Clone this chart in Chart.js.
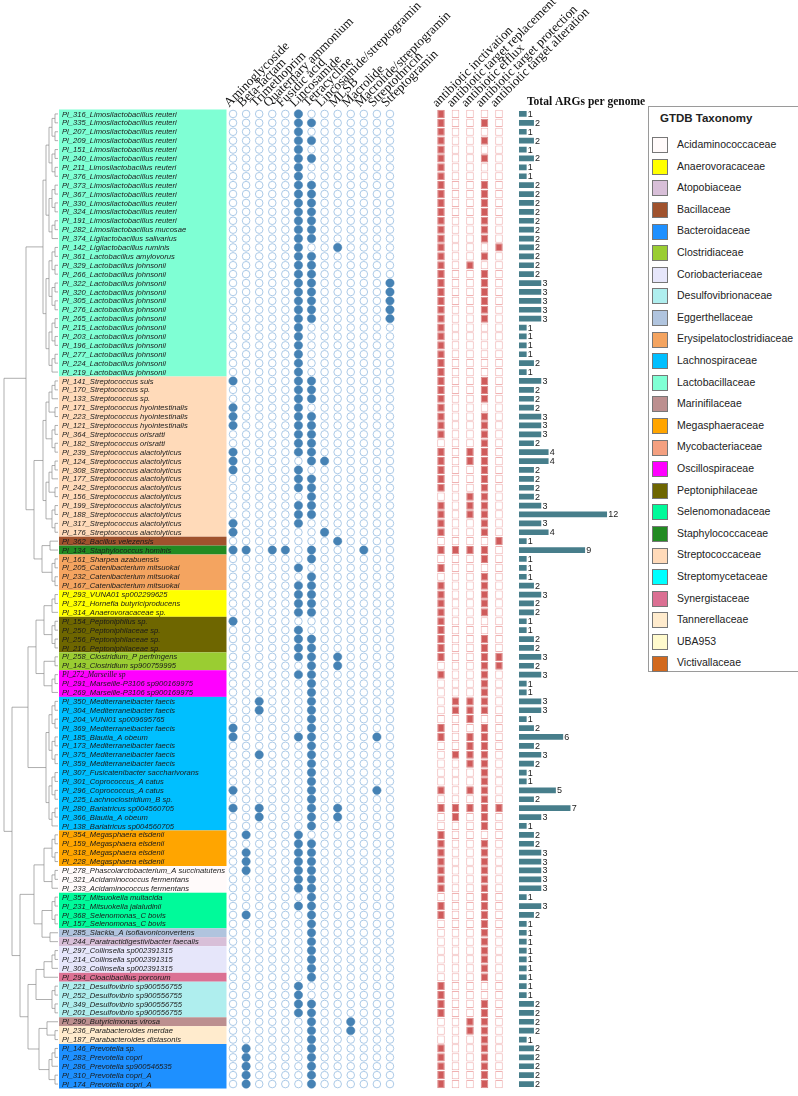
<!DOCTYPE html>
<html>
<head>
<meta charset="utf-8">
<script src="https://cdn.jsdelivr.net/npm/chart.js@4.4.1/dist/chart.umd.min.js"></script>
<style>
body { margin: 0; background: #fff; }
#wrap { position: relative; width: 798px; height: 1096px; overflow: hidden; }
#wrap canvas { position: absolute; left: 0; top: 0; }
#legend { position: absolute; left: 648px; top: 106px; width: 160px; height: 566px; border: 1px solid #9a9a9a;
  box-sizing: border-box; font-family: "Liberation Sans", Arial, sans-serif; background: #fff; }
#legend .title { position: absolute; left: 11px; top: 5px; font-weight: bold; font-size: 11.5px; color: #222; }
#legend .item { position: absolute; left: 3px; height: 17px; font-size: 10.5px; color: #222; line-height: 17px; }
#legend .sw { display: inline-block; width: 16px; height: 16px; border: 1px solid #777; box-sizing: border-box;
  vertical-align: middle; margin-right: 9px; }
</style>
</head>
<body>
<div id="wrap">
  <canvas id="dots" width="798" height="1096"></canvas>
  <canvas id="mechs" width="798" height="1096"></canvas>
  <canvas id="totals" width="798" height="1096"></canvas>
  <div id="legend"><div class="title">GTDB Taxonomy</div></div>
</div>
<script>
// drug classes (dot matrix columns)
const drugClasses = ['Aminoglycoside', 'Beta-lactam', 'Trimethoprim', 'Quaternary ammonium', 'Fusidic acid',
  'Lincosamide', 'Tetracycline', 'Lincosamide/streptogramin', 'MLSB', 'Macrolide', 'Macrolide/streptogramin',
  'Streptothricin', 'Streptogramin'];

// resistance mechanisms (square matrix columns)
const mechanisms = ['antibiotic inctivation', 'antibiotic target replacement', 'antibiotic efflux',
  'antibiotic target protection', 'antibiotic target alteration'];

const genomes = [
  'Pl_316_Limosilactobacillus reuteri', 'Pl_335_Limosilactobacillus reuteri', 'Pl_207_Limosilactobacillus reuteri',
  'Pl_209_Limosilactobacillus reuteri', 'Pl_151_Limosilactobacillus reuteri', 'Pl_240_Limosilactobacillus reuteri',
  'Pl_211_Limosilactobacillus reuteri', 'Pl_376_Limosilactobacillus reuteri', 'Pl_373_Limosilactobacillus reuteri',
  'Pl_367_Limosilactobacillus reuteri', 'Pl_330_Limosilactobacillus reuteri', 'Pl_324_Limosilactobacillus reuteri',
  'Pl_191_Limosilactobacillus reuteri', 'Pl_282_Limosilactobacillus mucosae', 'Pl_374_Ligilactobacillus salivarius',
  'Pl_142_Ligilactobacillus ruminis', 'Pl_361_Lactobacillus amylovorus', 'Pl_329_Lactobacillus johnsonii',
  'Pl_266_Lactobacillus johnsonii', 'Pl_322_Lactobacillus johnsonii', 'Pl_320_Lactobacillus johnsonii',
  'Pl_305_Lactobacillus johnsonii', 'Pl_276_Lactobacillus johnsonii', 'Pl_265_Lactobacillus johnsonii',
  'Pl_215_Lactobacillus johnsonii', 'Pl_203_Lactobacillus johnsonii', 'Pl_196_Lactobacillus johnsonii',
  'Pl_277_Lactobacillus johnsonii', 'Pl_224_Lactobacillus johnsonii', 'Pl_219_Lactobacillus johnsonii',
  'Pl_141_Streptococcus suis', 'Pl_170_Streptococcus sp.', 'Pl_133_Streptococcus sp.',
  'Pl_171_Streptococcus hyointestinalis', 'Pl_223_Streptococcus hyointestinalis', 'Pl_121_Streptococcus hyointestinalis',
  'Pl_364_Streptococcus orisratti', 'Pl_182_Streptococcus orisratti', 'Pl_239_Streptococcus alactolyticus',
  'Pl_124_Streptococcus alactolyticus', 'Pl_308_Streptococcus alactolyticus', 'Pl_177_Streptococcus alactolyticus',
  'Pl_242_Streptococcus alactolyticus', 'Pl_156_Streptococcus alactolyticus', 'Pl_199_Streptococcus alactolyticus',
  'Pl_188_Streptococcus alactolyticus', 'Pl_317_Streptococcus alactolyticus', 'Pl_176_Streptococcus alactolyticus',
  'Pl_362_Bacillus velezensis', 'Pl_134_Staphylococcus hominis', 'Pl_161_Sharpea azabuensis',
  'Pl_205_Catenibacterium mitsuokai', 'Pl_232_Catenibacterium mitsuokai', 'Pl_167_Catenibacterium mitsuokai',
  'Pl_293_VUNA01 sp002299625', 'Pl_371_Hornefia butyriciproducens', 'Pl_314_Anaerovoracaceae sp.',
  'Pl_154_Peptoniphilus sp.', 'Pl_250_Peptoniphilaceae sp.', 'Pl_256_Peptoniphilaceae sp.',
  'Pl_216_Peptoniphilaceae sp.', 'Pl_258_Clostridium_P perfringens', 'Pl_143_Clostridium sp900759995',
  'Pl_272_Marseille sp', 'Pl_291_Marseille-P3106 sp900169975', 'Pl_269_Marseille-P3106 sp900169975',
  'Pl_350_Mediterraneibacter faecis', 'Pl_304_Mediterraneibacter faecis', 'Pl_204_VUNI01 sp009695765',
  'Pl_369_Mediterraneibacter faecis', 'Pl_185_Blautia_A obeum', 'Pl_173_Mediterraneibacter faecis',
  'Pl_375_Mediterraneibacter faecis', 'Pl_359_Mediterraneibacter faecis', 'Pl_307_Fusicatenibacter saccharivorans',
  'Pl_301_Coprococcus_A catus', 'Pl_296_Coprococcus_A catus', 'Pl_225_Lachnoclostridium_B sp.',
  'Pl_280_Bariatricus sp004560705', 'Pl_366_Blautia_A obeum', 'Pl_138_Bariatricus sp004560705',
  'Pl_354_Megasphaera elsdenii', 'Pl_159_Megasphaera elsdenii', 'Pl_318_Megasphaera elsdenii',
  'Pl_228_Megasphaera elsdenii', 'Pl_278_Phascolarctobacterium_A succinatutens', 'Pl_321_Acidaminococcus fermentans',
  'Pl_233_Acidaminococcus fermentans', 'Pl_357_Mitsuokella multacida', 'Pl_231_Mitsuokella jalaludinii',
  'Pl_368_Selenomonas_C bovis', 'Pl_157_Selenomonas_C bovis', 'Pl_285_Slackia_A isoflavoniconvertens',
  'Pl_244_Paratractidigestivibacter faecalis', 'Pl_297_Collinsella sp002391315', 'Pl_214_Collinsella sp002391315',
  'Pl_303_Collinsella sp002391315', 'Pl_294_Cloacibacillus porcorum', 'Pl_221_Desulfovibrio sp900556755',
  'Pl_252_Desulfovibrio sp900556755', 'Pl_349_Desulfovibrio sp900556755', 'Pl_201_Desulfovibrio sp900556755',
  'Pl_290_Butyricimonas virosa', 'Pl_236_Parabacteroides merdae', 'Pl_187_Parabacteroides distasonis',
  'Pl_146_Prevotella sp.', 'Pl_283_Prevotella copri', 'Pl_286_Prevotella sp900546535',
  'Pl_310_Prevotella copri_A', 'Pl_174_Prevotella copri_A'
];

// consecutive rows per family, top to bottom
const familyRuns = [
  ['Lactobacillaceae', 30], ['Streptococcaceae', 18], ['Bacillaceae', 1], ['Staphylococcaceae', 1],
  ['Erysipelatoclostridiaceae', 4], ['Anaerovoracaceae', 3], ['Peptoniphilaceae', 4], ['Clostridiaceae', 2],
  ['Oscillospiraceae', 3], ['Lachnospiraceae', 15], ['Megasphaeraceae', 4], ['Acidaminococcaceae', 3],
  ['Selenomonadaceae', 4], ['Eggerthellaceae', 1], ['Atopobiaceae', 1], ['Coriobacteriaceae', 3],
  ['Synergistaceae', 1], ['Desulfovibrionaceae', 4], ['Marinifilaceae', 1], ['Tannerellaceae', 2],
  ['Bacteroidaceae', 5]
];

// drug class hits per genome (indices into drugClasses)
const drugHits = [
  [5], [5, 6], [5], [5, 6], [5], [5, 6], [5], [5], [5, 6], [5, 6],
  [5, 6], [5, 6], [5, 6], [5, 6], [5, 6], [5, 8], [5, 6], [5, 6], [5, 6], [5, 6, 12],
  [5, 6, 12], [5, 6, 12], [5, 6, 12], [5, 6, 12], [5], [5], [5], [5], [5], [5],
  [0, 5, 6], [5, 6], [5, 6], [0, 5], [0, 5, 6], [0, 5, 6], [5, 6], [5, 6], [0, 5, 6], [0, 6, 7],
  [0, 5], [5, 6], [5, 6], [6], [5, 6], [5, 6], [0, 5], [0, 7], [8], [0, 1, 3, 4, 6, 10],
  [6], [5], [6], [5, 6], [5, 6], [5, 6], [5, 6], [0], [5], [5, 6],
  [5, 6], [5, 6, 8], [6, 8], [5, 6], [6], [6], [2, 6], [2, 6], [6], [0, 6],
  [0, 5, 6, 11], [6], [2, 6], [6], [6], [6], [0, 6, 11], [6], [0, 2, 6, 8], [2, 6, 8],
  [6], [1, 5], [5, 6], [1, 5, 6], [1, 5, 6], [1, 5, 6], [5, 6], [5, 6], [6], [5, 6],
  [1, 6], [6], [6], [6], [6], [6], [6], [6], [5], [5],
  [5, 6], [5, 6], [6, 9], [6, 9], [6], [1, 6], [1, 6], [1, 6], [1, 6], [1, 6]
];

// mechanism hits per genome (indices into mechanisms)
const mechHits = [
  [0], [0, 3], [0], [0, 3], [0], [0, 3], [0], [0], [0, 3], [0, 3],
  [0, 3], [0, 3], [0, 3], [0, 3], [0, 3], [0, 4], [0, 3], [0, 2], [0, 3], [0, 3],
  [0, 3], [0, 3], [0, 3], [0, 3], [0], [0], [0], [0], [0], [0],
  [0, 3], [0, 3], [0, 3], [0], [0, 3], [0, 3], [0, 3], [3], [0, 2, 3], [0, 2, 3],
  [0, 3], [0, 3], [0, 3], [2, 3], [0, 2, 3], [0, 2, 3], [0, 3], [0, 3], [4], [0, 1, 2, 3],
  [3], [0], [3], [0, 3], [0, 3], [0, 3], [0, 3], [0], [0], [0, 3],
  [0, 3], [0, 3, 4], [3, 4], [0, 3], [3], [3], [1, 2, 3], [1, 2, 3], [2], [0, 3],
  [0, 2, 3], [2, 3], [1, 2, 3], [2, 3], [3], [3], [0, 2, 3], [3], [0, 1, 2, 3, 4], [1, 3],
  [3], [0], [0, 3], [0, 3], [0, 3], [0, 3], [0, 3], [0, 3], [3], [0, 3],
  [0, 3], [3], [3], [3], [3], [3], [3], [3], [0], [0],
  [0, 3], [0, 3], [2, 3], [2, 3], [3], [0, 3], [0, 3], [0, 3], [0, 3], [0, 3]
];

const totalARGs = [
  1, 2, 1, 2, 1, 2, 1, 1, 2, 2,
  2, 2, 2, 2, 2, 2, 2, 2, 2, 3,
  3, 3, 3, 3, 1, 1, 1, 1, 2, 1,
  3, 2, 2, 2, 3, 3, 3, 2, 4, 4,
  2, 2, 2, 2, 3, 12, 3, 4, 1, 9,
  1, 1, 1, 2, 3, 2, 2, 1, 1, 2,
  2, 3, 2, 3, 1, 1, 3, 3, 1, 2,
  6, 2, 3, 2, 1, 1, 5, 2, 7, 3,
  1, 2, 2, 3, 3, 3, 3, 3, 1, 3,
  2, 1, 1, 1, 1, 1, 1, 1, 1, 1,
  2, 2, 2, 2, 1, 2, 2, 2, 2, 2
];

const legendFamilies = ['Acidaminococcaceae', 'Anaerovoracaceae', 'Atopobiaceae', 'Bacillaceae', 'Bacteroidaceae',
  'Clostridiaceae', 'Coriobacteriaceae', 'Desulfovibrionaceae', 'Eggerthellaceae', 'Erysipelatoclostridiaceae',
  'Lachnospiraceae', 'Lactobacillaceae', 'Marinifilaceae', 'Megasphaeraceae', 'Mycobacteriaceae',
  'Oscillospiraceae', 'Peptoniphilaceae', 'Selenomonadaceae', 'Staphylococcaceae', 'Streptococcaceae',
  'Streptomycetaceae', 'Synergistaceae', 'Tannerellaceae', 'UBA953', 'Victivallaceae'];

const familyColors = {
  Acidaminococcaceae: '#FFFAFA', Anaerovoracaceae: '#FFFF00', Atopobiaceae: '#D8BFD8', Bacillaceae: '#A0522D',
  Bacteroidaceae: '#1E90FF', Clostridiaceae: '#9ACD32', Coriobacteriaceae: '#E6E6FA', Desulfovibrionaceae: '#AFEEEE',
  Eggerthellaceae: '#B0C4DE', Erysipelatoclostridiaceae: '#F4A460', Lachnospiraceae: '#00BFFF',
  Lactobacillaceae: '#7FFFD4', Marinifilaceae: '#BC8F8F', Megasphaeraceae: '#FFA500', Mycobacteriaceae: '#F4A080',
  Oscillospiraceae: '#FF00FF', Peptoniphilaceae: '#6E6600', Selenomonadaceae: '#00FA9A',
  Staphylococcaceae: '#228B22', Streptococcaceae: '#FFDAB9', Streptomycetaceae: '#00FFFF',
  Synergistaceae: '#DB7093', Tannerellaceae: '#FFEBCD', UBA953: '#FFFACD', Victivallaceae: '#D2691E'
};

const TOP = 109.5, BOTTOM_PAD = 7.5;
const LABEL_X0 = 59, LABEL_X1 = 226.5;

// legend (html)
const legendEl = document.getElementById('legend');
legendFamilies.forEach((fam, i) => {
  const it = document.createElement('div');
  it.className = 'item';
  it.style.top = (29 + i * 21.6) + 'px';
  it.innerHTML = `<span class="sw" style="background:${familyColors[fam]}"></span>${fam}`;
  legendEl.appendChild(it);
});

function rowStep(y) {
  return y.getPixelForValue(1) - y.getPixelForValue(0);
}

// rough dendrogram built from the family blocks
const familyStarts = [];
(function () { let s = 0; familyRuns.forEach(([, n]) => { familyStarts.push(s); s += n; }); })();

function drawTree(ctx, y, lo, hi) {
  if (lo === hi) return { x: LABEL_X0 - 1, py: y.getPixelForValue(lo) };
  const inner = familyStarts.filter(b => b > lo && b <= hi);
  let mid = Math.floor((lo + hi) / 2);
  if (inner.length) {
    const c = (lo + hi + 1) / 2;
    mid = inner.reduce((a, b) => Math.abs(b - c) < Math.abs(a - c) ? b : a) - 1;
  }
  const a = drawTree(ctx, y, lo, mid);
  const b = drawTree(ctx, y, mid + 1, hi);
  const x = Math.max(1.5, Math.min(a.x, b.x) - (inner.length ? 8 : 3));
  ctx.beginPath();
  ctx.moveTo(x, a.py); ctx.lineTo(a.x, a.py);
  ctx.moveTo(x, b.py); ctx.lineTo(b.x, b.py);
  ctx.moveTo(x, a.py); ctx.lineTo(x, b.py);
  ctx.stroke();
  return { x, py: (a.py + b.py) / 2 };
}

function drawHeaders(ctx, xs, labels, yTop) {
  ctx.save();
  ctx.font = '13px "Liberation Serif", "Times New Roman", serif';
  ctx.fillStyle = '#111';
  ctx.textBaseline = 'alphabetic';
  ctx.textAlign = 'left';
  labels.forEach((t, k) => {
    ctx.save();
    ctx.translate(xs[k] - 4, yTop - 2);
    ctx.rotate(-Math.PI / 4);
    ctx.fillText(t, 0, 0);
    ctx.restore();
  });
  ctx.restore();
}

const rowDecor = {
  id: 'rowDecor',
  beforeDatasetsDraw(chart) {
    const { ctx, scales: { x, y } } = chart;
    const step = rowStep(y);
    ctx.save();
    // family colour blocks behind the labels
    let i = 0;
    familyRuns.forEach(([fam, n]) => {
      ctx.fillStyle = familyColors[fam];
      ctx.fillRect(LABEL_X0, y.getPixelForValue(i) - step / 2, LABEL_X1 - LABEL_X0, n * step);
      i += n;
    });
    // genome labels
    ctx.fillStyle = '#1a1a1a';
    ctx.textBaseline = 'middle';
    genomes.forEach((g, r) => {
      ctx.font = g.endsWith('Marseille sp') ? 'italic 7.6px "Liberation Serif", serif'
        : 'italic 7.6px "Liberation Sans", Arial, sans-serif';
      ctx.fillText(g, 62, y.getPixelForValue(r) + 0.5);
    });
    // dendrogram
    ctx.strokeStyle = '#8c8c8c';
    ctx.lineWidth = 0.7;
    drawTree(ctx, y, 0, genomes.length - 1);
    ctx.restore();
    drawHeaders(ctx, drugClasses.map((d, k) => x.getPixelForValue(k)), drugClasses, y.top);
  }
};

const emptyDots = [], filledDots = [];
genomes.forEach((g, r) => {
  drugClasses.forEach((d, k) => {
    (drugHits[r].includes(k) ? filledDots : emptyDots).push({ x: d, y: g });
  });
});

new Chart(document.getElementById('dots'), {
  type: 'scatter',
  data: {
    datasets: [
      { data: emptyDots, pointRadius: 3.8, backgroundColor: '#ffffff', borderColor: '#a3c4e4', borderWidth: 0.9 },
      { data: filledDots, pointRadius: 4.2, backgroundColor: '#4682B4', borderColor: '#4682B4', borderWidth: 0.5 }
    ]
  },
  options: {
    responsive: false,
    animation: false,
    layout: { padding: { left: 226.5, right: 798 - 396.5, top: TOP, bottom: BOTTOM_PAD } },
    plugins: { legend: { display: false }, tooltip: { enabled: false } },
    scales: {
      x: { type: 'category', labels: drugClasses, offset: true, display: false },
      y: { type: 'category', labels: genomes, offset: true, display: false }
    }
  },
  plugins: [rowDecor]
});

// mechanism matrix: one floating-bar dataset per mechanism column
const mechSets = mechanisms.map((m, k) => ({
  label: m,
  data: genomes.map(() => [k + 0.24, k + 0.76]),
  backgroundColor: genomes.map((g, r) => mechHits[r].includes(k) ? '#CF5B5B' : '#ffffff'),
  borderColor: genomes.map((g, r) => mechHits[r].includes(k) ? '#DB8585' : '#F0B3B3'),
  borderWidth: 1,
  borderSkipped: false,
  barPercentage: 0.92,
  categoryPercentage: 1,
  grouped: false
}));

new Chart(document.getElementById('mechs'), {
  type: 'bar',
  data: { labels: genomes, datasets: mechSets },
  options: {
    indexAxis: 'y',
    responsive: false,
    animation: false,
    layout: { padding: { left: 433.75, right: 798 - 506.25, top: TOP, bottom: BOTTOM_PAD } },
    plugins: { legend: { display: false }, tooltip: { enabled: false } },
    scales: {
      x: { type: 'linear', min: 0, max: mechanisms.length, display: false },
      y: { display: false }
    }
  },
  plugins: [{
    id: 'mechHeaders',
    afterDraw(chart) {
      const { x, y } = chart.scales;
      drawHeaders(chart.ctx, mechanisms.map((m, k) => x.getPixelForValue(k + 0.5)), mechanisms, y.top);
    }
  }]
});

new Chart(document.getElementById('totals'), {
  type: 'bar',
  data: {
    labels: genomes,
    datasets: [{ data: totalARGs, backgroundColor: '#477E8B', barThickness: 5 }]
  },
  options: {
    indexAxis: 'y',
    responsive: false,
    animation: false,
    layout: { padding: { left: 519, right: 798 - 614, top: TOP, bottom: BOTTOM_PAD } },
    plugins: { legend: { display: false }, tooltip: { enabled: false } },
    scales: {
      x: { type: 'linear', min: 0, max: 13, display: false },
      y: { display: false }
    }
  },
  plugins: [{
    id: 'totalLabels',
    afterDraw(chart) {
      const { ctx, scales: { x, y } } = chart;
      ctx.save();
      ctx.font = '9px "Liberation Sans", Arial, sans-serif';
      ctx.fillStyle = '#222';
      ctx.textBaseline = 'middle';
      totalARGs.forEach((v, r) => ctx.fillText(String(v), x.getPixelForValue(v) + 1.5, y.getPixelForValue(r) + 0.5));
      ctx.font = 'bold 11.5px "Liberation Serif", "Times New Roman", serif';
      ctx.fillStyle = '#111';
      ctx.textBaseline = 'alphabetic';
      ctx.fillText('Total ARGs per genome', 527, y.top - 5);
      ctx.restore();
    }
  }]
});
</script>
</body>
</html>
